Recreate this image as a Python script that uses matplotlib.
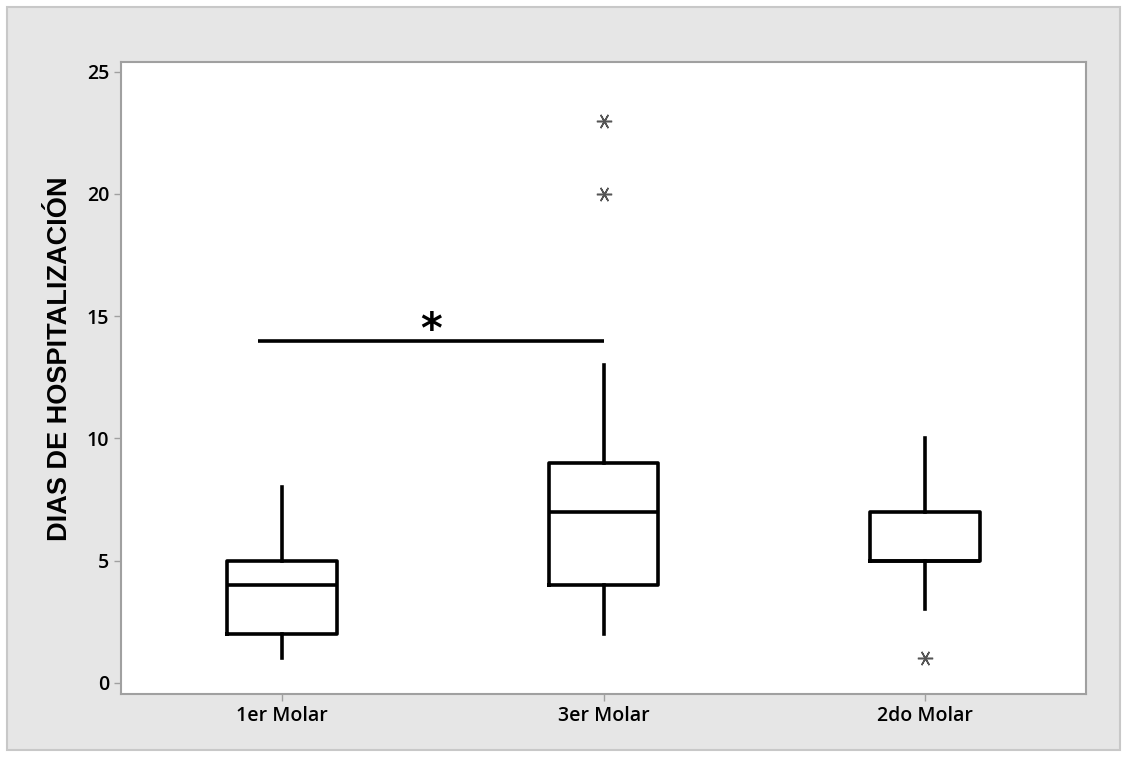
import matplotlib
matplotlib.use("Agg")
import matplotlib.pyplot as plt
from matplotlib.patches import Rectangle

# box stats
groups = ["1er Molar", "3er Molar", "2do Molar"]
q1 = [2, 4, 5]
med = [4, 7, 5]
q3 = [5, 9, 7]
wlo = [1, 2, 3]
whi = [8, 13, 10]
outliers = [[], [20, 23], [1]]
yticks = [0, 5, 10, 15, 20, 25]
sig_pair = (0, 1)
sig_y = 14

plt.rcParams['font.family'] = ['Open Sans', 'DejaVu Sans']

fig = plt.figure(figsize=(11.25, 7.57), dpi=100, facecolor="white")
# gray outer panel (Minitab style)
fig.patches.append(Rectangle((7/1125, 7/757), 1113/1125, 743/757, transform=fig.transFigure,
                             facecolor="#e6e6e6", edgecolor="#c8c8c8", lw=1.5, zorder=-1))

ax = fig.add_axes([121/1125, 1 - 694/757, (1086-121)/1125, (694-62)/757])
ax.set_facecolor("white")

stats = []
for i in range(len(groups)):
    stats.append(dict(med=med[i], q1=q1[i], q3=q3[i], whislo=wlo[i], whishi=whi[i],
                      fliers=outliers[i], label=groups[i]))

lw = 2.6
ax.bxp(stats, positions=range(len(groups)), widths=0.34, showcaps=False,
       boxprops=dict(color="black", lw=lw),
       medianprops=dict(color="black", lw=lw),
       whiskerprops=dict(color="black", lw=lw),
       flierprops=dict(marker=(6, 2, 90), markersize=11, markeredgecolor="#555555",
                       markeredgewidth=1.1, linestyle="none"))

# significance bar
x0 = sig_pair[0] - 0.075
x1 = sig_pair[1]
ax.plot([x0, x1], [sig_y, sig_y], color="black", lw=lw, solid_capstyle="butt")
ax.text((x0 + x1) / 2, sig_y - 0.45, "*", ha="center", va="bottom", fontsize=30,
        fontweight="bold", family="DejaVu Sans")

ax.set_xlim(-0.5, 2.5)
ax.set_ylim(-0.46, 25.4)
ax.set_yticks(yticks)
ax.set_xticks(range(len(groups)))
ax.set_xticklabels(groups)
for s in ax.spines.values():
    s.set_color("#a0a0a0")
    s.set_linewidth(1.5)
ax.tick_params(axis="both", colors="#a0a0a0", length=5, width=1, labelcolor="black",
               labelsize=14)
for t in ax.get_xticklabels() + ax.get_yticklabels():
    t.set_fontweight("semibold")
ax.set_ylabel("DIAS DE HOSPITALIZACIÓN", family="Liberation Sans", fontweight="bold",
              fontsize=19.5, labelpad=10, y=0.53)

fig.savefig("out.png", dpi=100, facecolor=fig.get_facecolor())
